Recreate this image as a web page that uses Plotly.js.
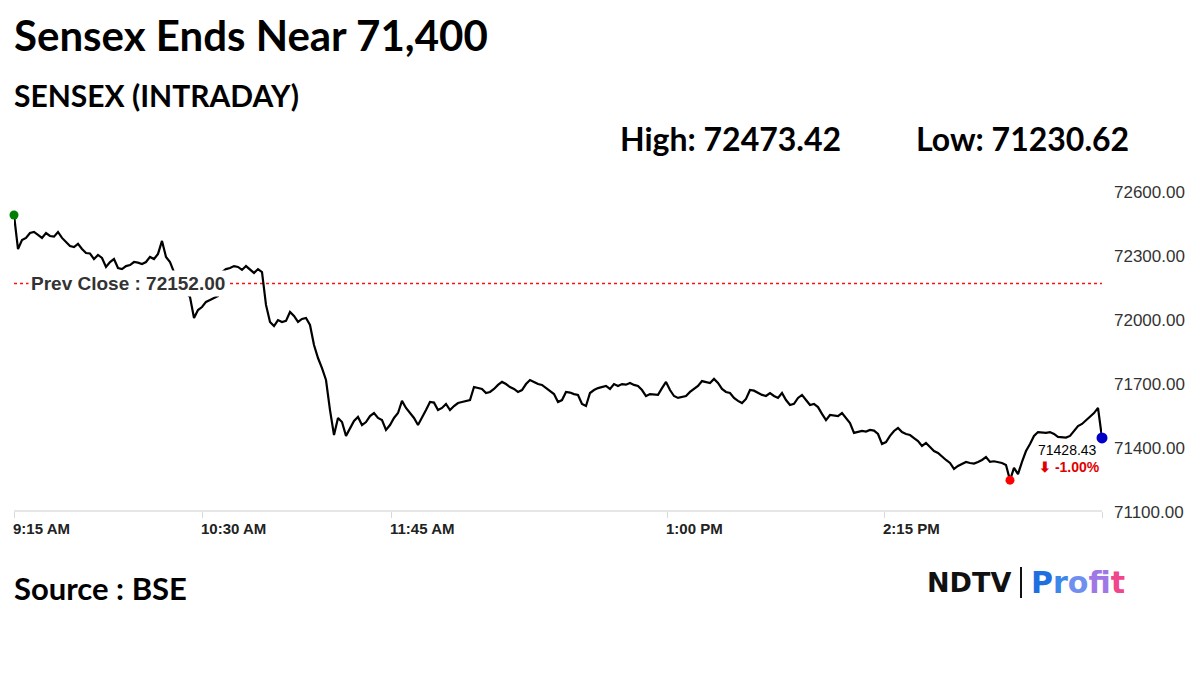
<!DOCTYPE html>
<html>
<head>
<meta charset="utf-8">
<script src="https://cdn.plot.ly/plotly-3.0.1.min.js"></script>
<style>html,body{margin:0;padding:0;background:#fff;}#chart{width:1200px;height:675px;}</style>
</head>
<body>
<div id="chart"></div>
<script>
// ---- Data ----
const chartTitle = 'Sensex Ends Near 71,400';
const chartSubtitle = 'SENSEX (INTRADAY)';
const sourceText = 'Source : BSE';
const prevClose = 72152.00;
const dayHigh = 72473.42;
const dayLow = 71230.62;
const lastValue = 71428.43;
const changePct = -1.00;

// Intraday SENSEX values, evenly spaced samples along the session (ordinal axis)
const sensexValues = [
  72473.42, 72314, 72356, 72366, 72389, 72394, 72380, 72366, 72389, 72375,
  72372, 72394, 72366, 72347, 72328, 72323, 72338, 72314, 72295, 72293,
  72267, 72286, 72272, 72230, 72253, 72267, 72225, 72220, 72234, 72239,
  72253, 72250, 72244, 72253, 72277, 72267, 72291, 72352, 72277, 72253,
  72206, 72169, 72131, 72108, 72089, 71991, 72028, 72042, 72066, 72075,
  72084, 72094, 72206, 72220, 72225, 72234, 72230, 72216, 72234, 72216,
  72202, 72220, 72206, 72052, 71972, 71953, 71981, 71972, 71977, 72019,
  72000, 71972, 71986, 71991, 71958, 71864, 71803, 71756, 71700, 71559,
  71442, 71522, 71503, 71438, 71475, 71508, 71527, 71489, 71503, 71531,
  71545, 71522, 71512, 71466, 71489, 71522, 71545, 71602, 71569, 71545,
  71522, 71489, 71522, 71559, 71597, 71594, 71559, 71569, 71588, 71559,
  71578, 71592, 71597, 71602, 71606, 71667, 71664, 71658, 71639, 71644,
  71658, 71677, 71691, 71681, 71667, 71658, 71644, 71653, 71681, 71700,
  71691, 71681, 71677, 71662, 71648, 71634, 71597, 71606, 71644, 71641,
  71634, 71630, 71588, 71578, 71639, 71653, 71662, 71667, 71672, 71658,
  71681, 71672, 71681, 71678, 71686, 71677, 71672, 71653, 71625, 71634,
  71631, 71630, 71662, 71691, 71653, 71625, 71616, 71620, 71625, 71644,
  71658, 71672, 71695, 71691, 71686, 71705, 71686, 71658, 71644, 71639,
  71616, 71602, 71592, 71611, 71653, 71650, 71639, 71630, 71625, 71639,
  71625, 71616, 71639, 71606, 71583, 71588, 71616, 71630, 71606, 71583,
  71588, 71573, 71541, 71512, 71536, 71533, 71531, 71545, 71522, 71498,
  71452, 71456, 71461, 71458, 71466, 71463, 71447, 71400, 71409, 71438,
  71461, 71475, 71456, 71447, 71442, 71428, 71414, 71391, 71405, 71386,
  71367, 71358, 71339, 71325, 71311, 71283, 71297, 71306, 71316, 71311,
  71308, 71316, 71325, 71339, 71316, 71319, 71314, 71311, 71302, 71230.62,
  71288, 71259, 71316, 71367, 71400, 71438, 71456, 71453, 71452, 71456,
  71447, 71433, 71433, 71430, 71438, 71461, 71484, 71494, 71512, 71527,
  71545, 71569, 71428.43
];

// X-axis tick labels (session times) and their positions on the ordinal sample axis
const timeTickPos = [0, 47, 94.25, 163.25, 217.5, 272];
const timeTickLabels = ['9:15 AM', '10:30 AM', '11:45 AM', '1:00 PM', '2:15 PM', ''];

// Y-axis ticks
const yTickVals = [71100, 71400, 71700, 72000, 72300, 72600];

// ---- Build chart ----
const idx = sensexValues.map((_, i) => i);
const lastIdx = sensexValues.length - 1;
const hiIdx = sensexValues.indexOf(Math.max(...sensexValues));
const loIdx = sensexValues.indexOf(Math.min(...sensexValues));

const traces = [
  {
    x: [0, lastIdx], y: [prevClose, prevClose], mode: 'lines',
    line: {color: '#ff1010', width: 1.6, dash: 'dot'}, hoverinfo: 'skip', showlegend: false
  },
  {
    x: idx, y: sensexValues, mode: 'lines',
    line: {color: '#000000', width: 2.2}, hoverinfo: 'skip', showlegend: false
  },
  {
    x: [hiIdx], y: [sensexValues[hiIdx]], mode: 'markers', cliponaxis: false,
    marker: {color: '#008000', size: 9}, showlegend: false, hoverinfo: 'skip'
  },
  {
    x: [loIdx], y: [sensexValues[loIdx]], mode: 'markers', cliponaxis: false,
    marker: {color: '#ff0000', size: 9}, showlegend: false, hoverinfo: 'skip'
  },
  {
    x: [lastIdx], y: [sensexValues[lastIdx]], mode: 'markers', cliponaxis: false,
    marker: {color: '#0000c8', size: 11}, showlegend: false, hoverinfo: 'skip'
  }
];

const headFamily = 'Lato, "Open Sans", sans-serif';
const arial = 'Liberation Sans, Arial, sans-serif';

const annotations = [
  {xref: 'paper', yref: 'paper', x: -0.0022, y: 1.422, xanchor: 'left', yanchor: 'middle',
   text: '<b>' + chartTitle + '</b>', showarrow: false,
   font: {family: headFamily, size: 42, color: '#000'}},
  {xref: 'paper', yref: 'paper', x: -0.0022, y: 1.242, xanchor: 'left', yanchor: 'middle',
   text: '<b>' + chartSubtitle + '</b>', showarrow: false,
   font: {family: headFamily, size: 30, color: '#000'}},
  {xref: 'paper', yref: 'paper', x: (618 - 14) / 1088, y: (510 - 138) / 334, xanchor: 'left', yanchor: 'middle',
   text: '<b>High: ' + dayHigh.toFixed(2) + '</b>', showarrow: false,
   font: {family: headFamily, size: 32, color: '#000'}},
  {xref: 'paper', yref: 'paper', x: (914 - 14) / 1088, y: (510 - 138) / 334, xanchor: 'left', yanchor: 'middle',
   text: '<b>Low: ' + dayLow.toFixed(2) + '</b>', showarrow: false,
   font: {family: headFamily, size: 32, color: '#000'}},
  {xref: 'paper', yref: 'paper', x: -0.0022, y: (510 - 588) / 334, xanchor: 'left', yanchor: 'middle',
   text: '<b>' + sourceText + '</b>', showarrow: false,
   font: {family: headFamily, size: 31, color: '#000'}},
  // Prev close label
  {xref: 'x', yref: 'y', x: 3.5, y: prevClose, xanchor: 'left', yanchor: 'middle',
   text: '<b>Prev Close : ' + prevClose.toFixed(2) + '</b>', showarrow: false,
   bgcolor: '#ffffff', borderpad: 2,
   font: {family: arial, size: 19, color: '#333333'}},
  // Last value label
  {xref: 'x', yref: 'y', x: lastIdx, y: lastValue, xanchor: 'right', yanchor: 'middle',
   xshift: -4, yshift: -12, text: lastValue.toFixed(2), showarrow: false, bgcolor: '#ffffff', borderpad: 0,
   font: {family: arial, size: 14, color: '#000000'}},
  {xref: 'x', yref: 'y', x: lastIdx, y: lastValue, xanchor: 'right', yanchor: 'middle',
   xshift: 0, yshift: -29, text: '<b>\u2b07 ' + changePct.toFixed(2) + '%</b>', showarrow: false,
   font: {family: arial, size: 14, color: '#e00000'}},
  // NDTV Profit logo
  {xref: 'paper', yref: 'paper', x: (1013 - 14) / 1088, y: (510 - 582) / 334, xanchor: 'right', yanchor: 'middle',
   text: '<b>NDTV</b>', showarrow: false,
   font: {family: 'DejaVu Sans, sans-serif', size: 27, color: '#111111'}},
  {xref: 'paper', yref: 'paper', x: (1029 - 14) / 1088, y: (510 - 582) / 334, xanchor: 'left', yanchor: 'middle',
   text: '<b><span style="color:#1f6fe0">P</span><span style="color:#3d86ea">r</span><span style="color:#6f8ff0">o</span><span style="color:#a078e6">f</span><span style="color:#d062d4">i</span><span style="color:#f0468c">t</span></b>',
   showarrow: false, font: {family: 'DejaVu Sans, sans-serif', size: 30, color: '#1f6fe0'}}
];

timeTickPos.forEach((p, i) => {
  if (!timeTickLabels[i]) return;
  annotations.push({
    xref: 'x', yref: 'paper', x: p, y: (510 - 528) / 334, xanchor: 'left', yanchor: 'middle',
    xshift: -3, text: '<b>' + timeTickLabels[i] + '</b>', showarrow: false,
    font: {family: arial, size: 15, color: '#222222'}
  });
});

const layout = {
  width: 1200, height: 675,
  margin: {l: 14, r: 98, t: 176, b: 165, pad: 0},
  paper_bgcolor: '#ffffff', plot_bgcolor: '#ffffff',
  showlegend: false,
  xaxis: {
    range: [0, lastIdx], showgrid: false, zeroline: false,
    showline: true, linecolor: '#e6e6e6', linewidth: 2,
    ticks: 'outside', ticklen: 6, tickwidth: 1, tickcolor: '#d9d9d9',
    tickmode: 'array', tickvals: timeTickPos, showticklabels: false, fixedrange: true
  },
  yaxis: {
    side: 'right', range: [71090.6, 72656.25], showgrid: false, zeroline: false, showline: false,
    ticks: '', tickmode: 'array', tickvals: yTickVals, ticktext: yTickVals.map(v => v.toFixed(2)),
    tickfont: {family: arial, size: 17, color: '#333333'},
    ticklabelstandoff: 11, ticklabelshift: 4, fixedrange: true
  },
  shapes: [
    {type: 'line', xref: 'paper', yref: 'paper',
     x0: (1021 - 14) / 1088, x1: (1021 - 14) / 1088, y0: (510 - 567) / 334, y1: (510 - 598) / 334,
     line: {color: '#111111', width: 2}}
  ],
  annotations: annotations
};

Plotly.newPlot('chart', traces, layout, {displayModeBar: false, staticPlot: true});
</script>
</body>
</html>
